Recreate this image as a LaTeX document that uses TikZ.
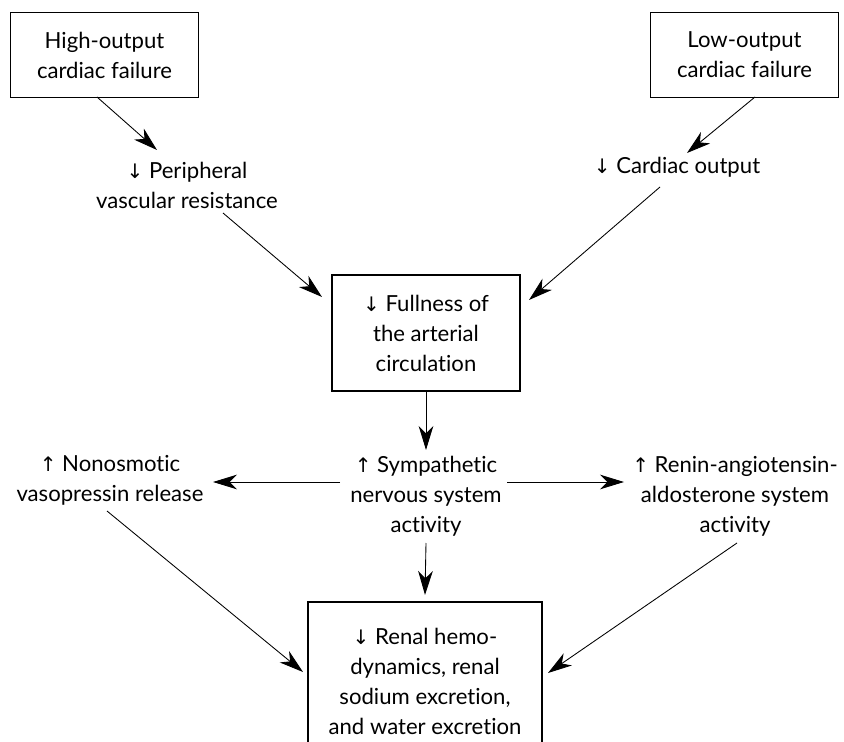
\documentclass[tikz,border=0pt]{standalone}
\usepackage{fontspec}
\setmainfont{Lato}[Ligatures={NoCommon,NoRare}]
\newfontfamily\arrowfont{DejaVu Sans}
\usetikzlibrary{arrows.meta}

\newcommand{\arrdown}{{\arrowfont\fontsize{15pt}{22pt}\selectfont ↓}}
\newcommand{\arrup}{{\arrowfont\fontsize{15pt}{22pt}\selectfont ↑}}

\begin{document}
\begin{tikzpicture}[
    x=0.75pt, y=-0.75pt,
    box/.style={draw, line width=0.9pt, align=center, inner sep=0pt,
      font=\fontsize{16.6pt}{22.5pt}\selectfont},
    txt/.style={align=center, inner sep=0pt, font=\fontsize{16.6pt}{22.5pt}\selectfont},
    arr/.style={-{Stealth[length=18pt, width=11pt, inset=5.5pt]}, line width=0.65pt}
  ]
    \useasboundingbox (0,0) rectangle (844,742);
    \clip (0,0) rectangle (844,742);

    % top row
    \node[box, minimum width=141pt, minimum height=63.5pt] (high) at (104.5,55) {High-output\\cardiac failure};
    \node[box, minimum width=141pt, minimum height=63.5pt] (low) at (744.5,55) {Low-output\\cardiac failure};
    \node[txt] (periph) at (187,185) {\arrdown\ Peripheral\\vascular resistance};
    \node[txt] (cardiac) at (677,167) {\arrdown\ Cardiac output};

    % centre
    \node[box, minimum width=141pt, minimum height=87pt] (full) at (426,333) {\arrdown\ Fullness of\\the arterial\\circulation};
    \node[txt] (symp) at (426,496) {\arrup\ Sympathetic\\nervous system\\activity};
    \node[txt] (vaso) at (110,480) {\arrup\ Nonosmotic\\vasopressin release};
    \node[txt] (renin) at (735,496) {\arrup\ Renin-angiotensin-\\aldosterone system\\activity};

    % bottom
    \node[box, minimum width=175.5pt, minimum height=118.5pt] (renal) at (425,681) {\arrdown\ Renal hemo-\\dynamics, renal\\sodium excretion,\\and water excretion};

    \draw[arr] ([shift={(-7.5,42)}]high.center) -- ([shift={(-30,-35)}]periph.center);
    \draw[arr] ([shift={(10.5,42)}]low.center) -- ([shift={(10,-14)}]cardiac.center);
    \draw[arr] ([shift={(36,28)}]periph.center) -- ([shift={(-104,-36)}]full.center);
    \draw[arr] ([shift={(-17,20)}]cardiac.center) -- ([shift={(103,-33)}]full.center);
    \draw[arr] (full.south) -- ([shift={(0,-46)}]symp.center);
    \draw[arr] ([shift={(-86,-14)}]symp.center) -- ([shift={(103,2)}]vaso.center);
    \draw[arr] ([shift={(81,-14)}]symp.center) -- ([shift={(-111,-14)}]renin.center);
    \draw[arr] ([shift={(0,47)}]symp.center) -- ([shift={(0,-86)}]renal.center);
    \draw[arr] ([shift={(-3,31)}]vaso.center) -- ([shift={(-122,-9)}]renal.center);
    \draw[arr] ([shift={(2,47)}]renin.center) -- ([shift={(123,-8)}]renal.center);
  \end{tikzpicture}
\end{document}
